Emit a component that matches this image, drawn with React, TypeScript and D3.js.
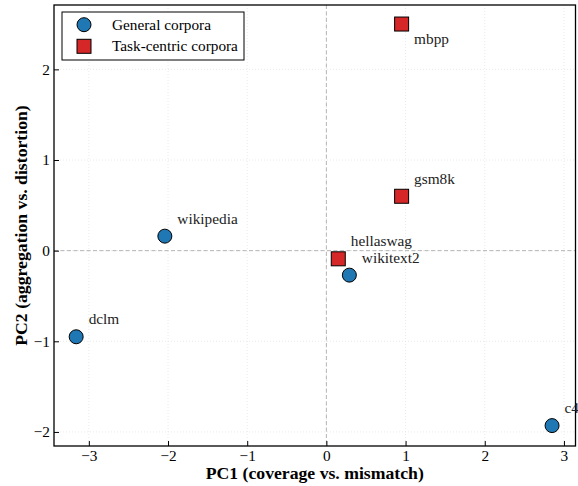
import { useEffect, useRef } from 'react';
import * as d3 from 'd3';

// general corpora (circles)
const generalNames = ['wikipedia', 'dclm', 'wikitext2', 'c4'];
const generalPC1 = [-2.04, -3.16, 0.29, 2.85];
const generalPC2 = [0.16, -0.95, -0.27, -1.93];

// task-centric corpora (squares)
const taskNames = ['mbpp', 'gsm8k', 'hellaswag'];
const taskPC1 = [0.95, 0.95, 0.15];
const taskPC2 = [2.5, 0.6, -0.09];

const xTicks = [-3, -2, -1, 0, 1, 2, 3];
const yTicks = [-2, -1, 0, 1, 2];
const xDomain: [number, number] = [-3.44, 3.146];
const yDomain: [number, number] = [-2.155, 2.71];

const legendLabels = ['General corpora', 'Task-centric corpora'];
const labelsBelow = ['mbpp'];

const BLUE = '#1f77b4';
const RED = '#d62728';
const FONT = 'Liberation Serif, serif';

interface Pt {
  name: string;
  x: number;
  y: number;
}

export default function App() {
  const svgRef = useRef<SVGSVGElement>(null);
  const width = 578;
  const height = 486;

  useEffect(() => {
    if (!svgRef.current) return;
    const svg = d3.select(svgRef.current);
    svg.selectAll('*').remove();

    const margin = { top: 5, right: 2.5, bottom: 40, left: 54 };
    const x = d3.scaleLinear().domain(xDomain).range([margin.left, width - margin.right]);
    const y = d3.scaleLinear().domain(yDomain).range([height - margin.bottom, margin.top]);
    const fmt = d3.format('d');

    const general: Pt[] = generalNames.map((n, i) => ({ name: n, x: generalPC1[i], y: generalPC2[i] }));
    const task: Pt[] = taskNames.map((n, i) => ({ name: n, x: taskPC1[i], y: taskPC2[i] }));

    svg.append('rect').attr('width', width).attr('height', height).attr('fill', '#fff');

    // light dotted grid
    const grid = svg.append('g');
    grid.selectAll('line.gx')
      .data(xTicks)
      .join('line')
      .attr('x1', d => x(d)).attr('x2', d => x(d))
      .attr('y1', margin.top).attr('y2', height - margin.bottom)
      .attr('stroke', '#e4e4e4').attr('stroke-width', 0.8).attr('stroke-dasharray', '1,2');
    grid.selectAll('line.gy')
      .data(yTicks)
      .join('line')
      .attr('y1', d => y(d)).attr('y2', d => y(d))
      .attr('x1', margin.left).attr('x2', width - margin.right)
      .attr('stroke', '#e4e4e4').attr('stroke-width', 0.8).attr('stroke-dasharray', '1,2');

    // zero lines
    svg.append('line')
      .attr('x1', x(0)).attr('x2', x(0))
      .attr('y1', margin.top).attr('y2', height - margin.bottom)
      .attr('stroke', '#b5b5b5').attr('stroke-width', 1).attr('stroke-dasharray', '4,2.5');
    svg.append('line')
      .attr('y1', y(0)).attr('y2', y(0))
      .attr('x1', margin.left).attr('x2', width - margin.right)
      .attr('stroke', '#b5b5b5').attr('stroke-width', 1).attr('stroke-dasharray', '4,2.5');

    // axes (ticks pointing inward)
    const xAxis = svg.append('g')
      .attr('transform', `translate(0,${height - margin.bottom})`)
      .call(d3.axisBottom(x).tickValues(xTicks).tickFormat(d => fmt(d as number))
        .tickSizeInner(-5).tickSizeOuter(0).tickPadding(4));
    const yAxis = svg.append('g')
      .attr('transform', `translate(${margin.left},0)`)
      .call(d3.axisLeft(y).tickValues(yTicks).tickFormat(d => fmt(d as number))
        .tickSizeInner(-5).tickSizeOuter(0).tickPadding(4));
    [xAxis, yAxis].forEach(a => {
      a.attr('font-family', FONT).attr('font-size', 15.3);
      a.select('.domain').remove();
      a.selectAll('line').attr('stroke', '#000').attr('stroke-width', 1);
      a.selectAll('text').attr('fill', '#000');
    });

    // frame
    svg.append('rect')
      .attr('x', margin.left).attr('y', margin.top)
      .attr('width', width - margin.left - margin.right)
      .attr('height', height - margin.top - margin.bottom)
      .attr('fill', 'none').attr('stroke', '#000').attr('stroke-width', 1.3);

    // points
    svg.append('g').selectAll('circle')
      .data(general)
      .join('circle')
      .attr('cx', d => x(d.x)).attr('cy', d => y(d.y)).attr('r', 7)
      .attr('fill', BLUE).attr('stroke', '#000').attr('stroke-width', 1);
    svg.append('g').selectAll('rect')
      .data(task)
      .join('rect')
      .attr('x', d => x(d.x) - 7).attr('y', d => y(d.y) - 7)
      .attr('width', 14).attr('height', 14)
      .attr('fill', RED).attr('stroke', '#000').attr('stroke-width', 1);

    // point labels
    svg.append('g')
      .attr('font-family', FONT).attr('font-size', 15.3)
      .selectAll('text')
      .data([...general, ...task])
      .join('text')
      .attr('x', d => x(d.x) + 12.5)
      .attr('y', d => y(d.y) + (labelsBelow.includes(d.name) ? 20 : -12.5))
      .attr('fill', '#222')
      .text(d => d.name);

    // axis titles
    svg.append('text')
      .attr('x', (margin.left + width - margin.right) / 2)
      .attr('y', 479)
      .attr('text-anchor', 'middle')
      .attr('font-family', FONT).attr('font-size', 17.7).attr('font-weight', 'bold')
      .text('PC1 (coverage vs. mismatch)');
    svg.append('text')
      .attr('transform', `translate(27,${(margin.top + height - margin.bottom) / 2}) rotate(-90)`)
      .attr('text-anchor', 'middle')
      .attr('font-family', FONT).attr('font-size', 17.7).attr('font-weight', 'bold')
      .text('PC2 (aggregation vs. distortion)');

    // legend
    const lg = svg.append('g').attr('font-family', FONT).attr('font-size', 15.3);
    lg.append('rect')
      .attr('x', 62).attr('y', 12).attr('width', 182).attr('height', 48)
      .attr('fill', '#fff').attr('stroke', '#000').attr('stroke-width', 1);
    legendLabels.forEach((lbl, i) => {
      const cy = 24.7 + i * 21.6;
      if (i === 0) {
        lg.append('circle').attr('cx', 84).attr('cy', cy).attr('r', 7)
          .attr('fill', BLUE).attr('stroke', '#000').attr('stroke-width', 1);
      } else {
        lg.append('rect').attr('x', 77).attr('y', cy - 7).attr('width', 14).attr('height', 14)
          .attr('fill', RED).attr('stroke', '#000').attr('stroke-width', 1);
      }
      lg.append('text').attr('x', 112).attr('y', cy + 5).text(lbl);
    });
  }, []);

  return (
    <svg
      ref={svgRef}
      width={width}
      height={height}
      style={{ position: 'absolute', left: 0, top: 0, display: 'block' }}
    />
  );
}
